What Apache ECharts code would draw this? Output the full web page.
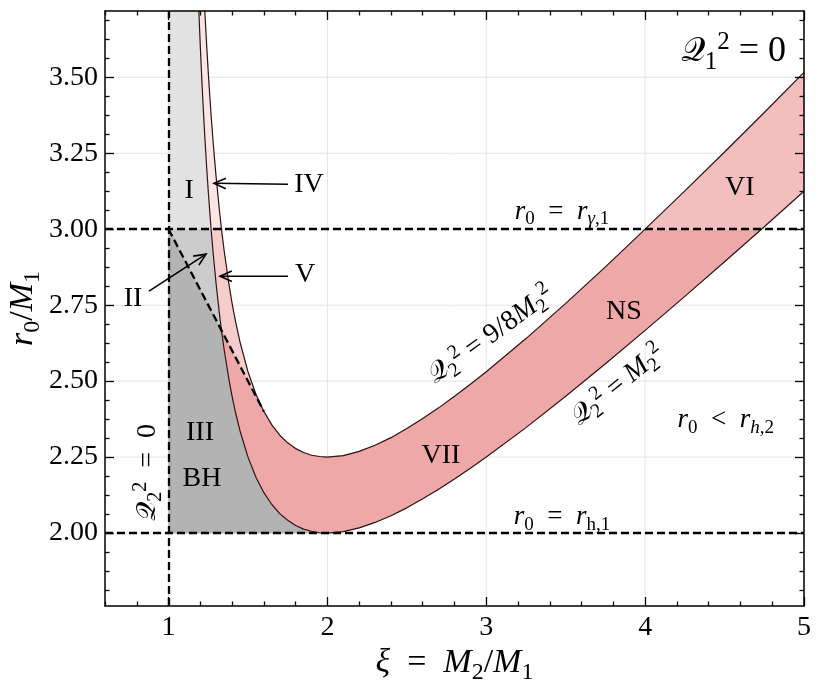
<!DOCTYPE html>
<html><head><meta charset="utf-8">
<script src="https://cdn.jsdelivr.net/npm/echarts@6/dist/echarts.min.js"></script>
<style>html,body{margin:0;padding:0;background:#fff}#c{width:822px;height:688px}</style>
</head><body><div id="c"></div>
<script>
// ---------- data ----------
const xMajor = [1, 2, 3, 4, 5];
const xMinor = [0.6, 0.8, 1.2, 1.4, 1.6, 1.8, 2.2, 2.4, 2.6, 2.8, 3.2, 3.4, 3.6, 3.8, 4.2, 4.4, 4.6, 4.8];
const yMajor = [2.00, 2.25, 2.50, 2.75, 3.00, 3.25, 3.50];
const yMinor = [1.8125, 1.875, 1.9375, 2.0625, 2.125, 2.1875, 2.3125, 2.375, 2.4375, 2.5625, 2.625, 2.6875,
                2.8125, 2.875, 2.9375, 3.0625, 3.125, 3.1875, 3.3125, 3.375, 3.4375, 3.5625, 3.625, 3.6875];

// boundary Q2^2 = M2^2 (lower band edge)
const lowerXi = [1.17, 1.175, 1.18, 1.19, 1.20, 1.21, 1.22, 1.23, 1.24, 1.25, 1.26, 1.268, 1.28, 1.30, 1.32,
                 1.3333, 1.35, 1.38, 1.40, 1.42, 1.45, 1.50, 1.55, 1.60, 1.65, 1.70, 1.75, 1.80, 1.85, 1.90,
                 1.95, 2.00, 2.10, 2.20, 2.30, 2.40, 2.50, 2.60, 2.70, 2.80, 2.90, 3.00, 3.25, 3.50, 3.75,
                 4.00, 4.25, 4.50, 4.732, 5.00];
const lowerR  = [4.026, 3.945, 3.868, 3.727, 3.600, 3.486, 3.383, 3.289, 3.203, 3.125, 3.053, 3.000, 2.926, 2.817, 2.723,
                 2.667, 2.604, 2.506, 2.450, 2.400, 2.336, 2.250, 2.184, 2.133, 2.094, 2.064, 2.042, 2.025, 2.013, 2.006,
                 2.001, 2.000, 2.005, 2.017, 2.035, 2.057, 2.083, 2.113, 2.144, 2.178, 2.213, 2.250, 2.347, 2.450, 2.557,
                 2.667, 2.779, 2.893, 3.000, 3.125];
// boundary Q2^2 = 9/8 M2^2 (upper band edge)
const upperXi = [1.19, 1.195, 1.20, 1.21, 1.215, 1.22, 1.225, 1.23, 1.24, 1.25, 1.26, 1.27, 1.28, 1.29, 1.30,
                 1.32, 1.3333, 1.35, 1.38, 1.40, 1.42, 1.45, 1.50, 1.55, 1.60, 1.65, 1.70, 1.75, 1.80, 1.85,
                 1.90, 1.95, 2.00, 2.10, 2.20, 2.30, 2.40, 2.50, 2.60, 2.70, 2.80, 2.90, 3.00, 3.25, 3.50,
                 3.75, 4.00, 4.25, 4.50, 4.75, 5.00];
const upperR  = [4.193, 4.119, 4.050, 3.922, 3.862, 3.806, 3.752, 3.700, 3.604, 3.516, 3.435, 3.360, 3.291, 3.228, 3.169,
                 3.063, 3.000, 2.929, 2.819, 2.756, 2.701, 2.628, 2.531, 2.457, 2.400, 2.356, 2.322, 2.297, 2.278, 2.265,
                 2.256, 2.252, 2.250, 2.255, 2.269, 2.289, 2.314, 2.344, 2.377, 2.412, 2.450, 2.490, 2.531, 2.640, 2.756,
                 2.876, 3.000, 3.126, 3.254, 3.384, 3.516];
// dashed diagonal boundary (BH region)
const diagXi = [1.0, 1.3333, 1.6];
const diagR  = [3.0, 2.667, 2.4];
// reference lines
const refX = [1.0];          // Q2^2 = 0
const refY = [2.0, 3.0];     // r0 = r_h,1 ; r0 = r_gamma,1

const regionNames = ['I', 'II', 'III', 'IV', 'V', 'VII', 'VI'];

// ---------- geometry from data ----------
function pts(xs, ys, a, b) { const o = []; for (let i = 0; i < xs.length; i++) if (xs[i] >= a - 1e-6 && xs[i] <= b + 1e-6) o.push([xs[i], ys[i]]); return o; }
const L = (a, b) => pts(lowerXi, lowerR, a, b);
const U = (a, b) => pts(upperXi, upperR, a, b);
const D = (a, b) => pts(diagXi, diagR, a, b);
const rev = a => a.slice().reverse();
const x0 = refX[0], yH = refY[0], yG = refY[1];
const lxA = lowerXi[lowerR.indexOf(yG)], lxB = lowerXi[lowerR.lastIndexOf(yG)];
const uxA = upperXi[upperR.indexOf(yG)], uxB = upperXi[upperR.lastIndexOf(yG)];
const dMid = diagXi[1], dEnd = diagXi[2];
const lMin = lowerXi[lowerR.indexOf(Math.min(...lowerR))];
const lTop = lowerXi[0], uTop = upperXi[0], xEnd = upperXi[upperXi.length - 1];

const regionPolys = [
  [[x0, yG], [x0, lowerR[0]], ...L(lTop, lxA)],                                   // I
  [[x0, yG], ...L(lxA, dMid)],                                                     // II
  [...D(x0, dMid), ...L(dMid, lMin), [x0, yH]],                                    // III
  [...L(lTop, lxA), ...rev(U(uTop, uxA))],                                         // IV
  [[lxA, yG], ...U(uxA, dEnd), ...rev(D(dMid, dEnd)), ...rev(L(lxA, dMid))],       // V
  [...L(dMid, lxB), ...rev(U(dEnd, uxB))],                                         // VII
  [...U(uxB, xEnd), ...rev(L(lxB, xEnd))]                                          // VI
];
const regionColors = ['#e2e2e2', '#cbcbcb', '#b3b3b3', '#fce5e5', '#f5cdcd', '#efa8a8', '#f2bebe'];

// ---------- styling ----------
const FF = "'Liberation Serif','DejaVu Serif',serif";
const QF = "'DejaVu Sans','Noto Sans',serif";
function mk(F, p) {
  const lh = Math.round(F * 1.25), s = Math.round(F * 0.7), c = '#000';
  const o = {};
  o[p + 'rm'] = { fontFamily: FF, fontSize: F, lineHeight: lh, color: c };
  o[p + 'it'] = { fontFamily: FF, fontStyle: 'italic', fontSize: F, lineHeight: lh, color: c };
  o[p + 'q'] = { fontFamily: QF, fontSize: Math.round(F * 0.95), lineHeight: lh, color: c };
  o[p + 'sub'] = { fontFamily: FF, fontSize: s, verticalAlign: 'bottom', color: c };
  o[p + 'subit'] = { fontFamily: FF, fontStyle: 'italic', fontSize: s, verticalAlign: 'bottom', color: c };
  o[p + 'sup'] = { fontFamily: FF, fontSize: s, verticalAlign: 'top', color: c };
  return o;
}
const RICH = Object.assign({}, mk(28, ''), mk(36, 'B'), mk(27, 's'));
const Q = '𝒬';

const texts = [
  { p: [1.129, 3.128], t: '{rm|I}' },
  { p: [1.884, 3.145], t: '{rm|IV}' },
  { p: [1.859, 2.852], t: '{rm|V}' },
  { p: [0.776, 2.773], t: '{rm|II}' },
  { p: [1.198, 2.332], t: '{rm|III}' },
  { p: [1.210, 2.180], t: '{rm|BH}' },
  { p: [2.715, 2.256], t: '{rm|VII}' },
  { p: [3.866, 2.730], t: '{rm|NS}' },
  { p: [4.596, 3.138], t: '{rm|VI}' },
  { p: [3.476, 3.058], t: '{sit|r}{ssub|0}{srm|  =  }{sit|r}{ssubit|γ}{ssub|,1}' },
  { p: [3.476, 2.052], t: '{sit|r}{ssub|0}{srm|  =  }{sit|r}{ssub|h,1}' },
  { p: [4.508, 2.371], t: '{sit|r}{ssub|0}{srm|  <  }{sit|r}{ssubit|h}{ssub|,2}' },
  { p: [3.029, 2.651], t: '{q|' + Q + '}{sub|2}{sup|2}{rm| = 9/8}{it|M}{sub|2}{sup|2}', r: 36 },
  { p: [3.828, 2.486], t: '{q|' + Q + '}{sub|2}{sup|2}{rm| = }{it|M}{sub|2}{sup|2}', r: 39 },
  { p: [0.871, 2.200], t: '{q|' + Q + '}{sub|2}{sup|2}{rm|  =  0}', r: 90 },
  { p: [4.555, 3.583], t: '{Bq|' + Q + '}{Bsub|1}{Bsup|2}{Brm| = 0}' }
];
const arrows = [
  [1.752, 3.148, 1.286, 3.151],
  [1.752, 2.845, 1.324, 2.845],
  [0.877, 2.796, 1.236, 2.918]
];

const XMIN = 0.6, XMAX = 5, YMIN = 1.76, YMAX = 3.718;
function xa(extra) {
  return Object.assign({ type: 'value', min: XMIN, max: XMAX, z: 10, splitLine: { show: false },
    axisLine: { show: false, onZero: false }, axisLabel: { show: false } }, extra);
}
function ya(extra) {
  return Object.assign({ type: 'value', min: YMIN, max: YMAX, z: 10, splitLine: { show: false },
    axisLine: { show: false, onZero: false }, axisLabel: { show: false } }, extra);
}
const AL = { show: true, onZero: false, lineStyle: { color: '#000', width: 1.5 } };
const TK = (vals, len) => ({ show: true, inside: true, length: len, customValues: vals, lineStyle: { color: '#000', width: 1.3 } });
const DASH = { color: '#000', width: 2.3, type: [8, 4] };

const chart = echarts.init(document.getElementById('c'));
chart.setOption({
  animation: false,
  grid: { left: 105, right: 18, top: 11, bottom: 82, containLabel: false, outerBoundsMode: 'none' },
  xAxis: [
    xa({ position: 'bottom', axisLine: AL, axisTick: TK(xMajor, 9),
         axisLabel: { show: true, customValues: xMajor, margin: 8, fontFamily: FF, fontSize: 28, color: '#000' },
         name: '{it|ξ}{rm|  =  }{it|M}{sub|2}{rm|/}{it|M}{sub|1}', nameLocation: 'middle', nameGap: 36,
         nameMoveOverlap: false, nameTextStyle: { rich: mk(34, '') } }),
    xa({ position: 'bottom', axisTick: TK(xMinor, 4.5) }),
    xa({ position: 'top', axisLine: AL, axisTick: TK(xMajor, 9) }),
    xa({ position: 'top', axisTick: TK(xMinor, 4.5) })
  ],
  yAxis: [
    ya({ position: 'left', axisLine: AL, axisTick: TK(yMajor, 9),
         axisLabel: { show: true, customValues: yMajor, margin: 7, fontFamily: FF, fontSize: 28, color: '#000',
                      formatter: v => v.toFixed(2) },
         name: '{it|r}{sub|0}{rm|/}{it|M}{sub|1}', nameLocation: 'middle', nameGap: 60,
         nameMoveOverlap: false, nameTextStyle: { rich: mk(34, '') } }),
    ya({ position: 'left', axisTick: TK(yMinor, 4.5) }),
    ya({ position: 'right', axisLine: AL, axisTick: TK(yMajor, 9) }),
    ya({ position: 'right', axisTick: TK(yMinor, 4.5) })
  ],
  series: [
    { // grid lines
      type: 'custom', z: 1, silent: true, data: [[XMIN, YMIN]],
      renderItem: (params, api) => {
        const cs = params.coordSys, ch = [];
        xMajor.forEach(v => { const x = api.coord([v, YMIN])[0];
          ch.push({ type: 'line', shape: { x1: x, y1: cs.y, x2: x, y2: cs.y + cs.height }, style: { stroke: '#e4e4e4', lineWidth: 1 } }); });
        yMajor.forEach(v => { const y = api.coord([XMIN, v])[1];
          ch.push({ type: 'line', shape: { x1: cs.x, y1: y, x2: cs.x + cs.width, y2: y }, style: { stroke: '#e4e4e4', lineWidth: 1 } }); });
        return { type: 'group', children: ch };
      }
    },
    { // filled regions
      type: 'custom', z: 2, silent: true, data: regionPolys.map((p, i) => [XMIN, YMIN, i]),
      renderItem: (params, api) => {
        const i = params.dataIndex, cs = params.coordSys;
        return { type: 'polygon', shape: { points: regionPolys[i].map(p => api.coord(p)) },
          style: { fill: regionColors[i], stroke: regionColors[i], lineWidth: 0.6 },
          clipPath: { type: 'rect', shape: { x: cs.x, y: cs.y, width: cs.width, height: cs.height } } };
      }
    },
    { name: 'Q2^2=M2^2', type: 'line', z: 4, showSymbol: false, symbol: 'none', clip: true, silent: true,
      data: lowerXi.map((x, i) => [x, lowerR[i]]), lineStyle: { color: '#2e1414', width: 1.2 } },
    { name: 'Q2^2=9/8 M2^2', type: 'line', z: 4, showSymbol: false, symbol: 'none', clip: true, silent: true,
      data: upperXi.map((x, i) => [x, upperR[i]]), lineStyle: { color: '#2e1414', width: 1.2 } },
    { name: 'diag', type: 'line', z: 5, showSymbol: false, symbol: 'none', clip: true, silent: true,
      data: diagXi.map((x, i) => [x, diagR[i]]), lineStyle: DASH,
      markLine: { silent: true, symbol: ['none', 'none'], label: { show: false },
        lineStyle: DASH, emphasis: { disabled: true },
        data: [{ xAxis: refX[0] }, { yAxis: refY[0] }, { yAxis: refY[1] }] } },
    { // arrows
      type: 'custom', z: 6, silent: true, data: arrows.map(a => [a[0], a[1]]),
      renderItem: (params, api) => {
        const a = arrows[params.dataIndex];
        const p1 = api.coord([a[0], a[1]]), p2 = api.coord([a[2], a[3]]);
        const ang = Math.atan2(p2[1] - p1[1], p2[0] - p1[0]), h = 13, w = 0.42;
        const hA = [p2[0] - h * Math.cos(ang - w), p2[1] - h * Math.sin(ang - w)];
        const hB = [p2[0] - h * Math.cos(ang + w), p2[1] - h * Math.sin(ang + w)];
        const st = { stroke: '#000', lineWidth: 1.6, fill: null };
        return { type: 'group', children: [
          { type: 'line', shape: { x1: p1[0], y1: p1[1], x2: p2[0], y2: p2[1] }, style: st },
          { type: 'polyline', shape: { points: [hA, p2, hB] }, style: st } ] };
      }
    },
    { // text annotations
      type: 'scatter', z: 7, silent: true, symbolSize: 1, itemStyle: { color: 'rgba(0,0,0,0)', opacity: 1 },
      label: { show: true, position: 'inside', rich: RICH, color: '#000', opacity: 1 },
      data: texts.map(d => ({ value: d.p, label: { formatter: d.t, rotate: d.r || 0 } }))
    }
  ]
});
</script></body></html>
